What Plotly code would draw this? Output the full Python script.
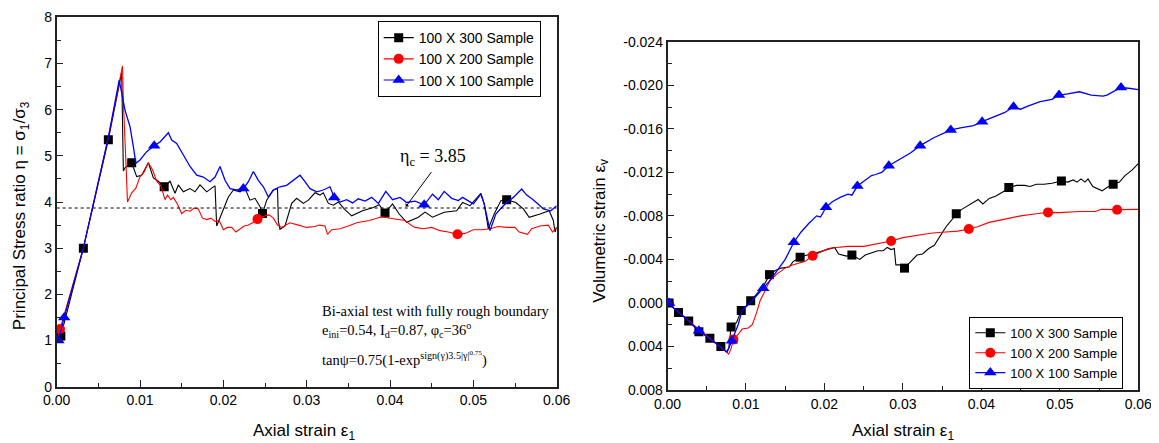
import plotly.graph_objects as go

# ---- left panel: principal stress ratio vs axial strain ----
s300_x = [0, 0.0005, 0.0032, 0.0062, 0.0078, 0.0080, 0.0082, 0.0090, 0.0096, 0.0102, 0.0110, 0.0116,
          0.0122, 0.0129, 0.0136, 0.0142, 0.0146, 0.0152, 0.0160, 0.0166, 0.0172, 0.0180, 0.0186, 0.0190,
          0.0192, 0.0198, 0.0206, 0.0212, 0.0220, 0.0226, 0.0232, 0.0238, 0.0244, 0.0247, 0.0252, 0.0260,
          0.0265, 0.0266, 0.0268, 0.0274, 0.0282, 0.0288, 0.0296, 0.0302, 0.0310, 0.0316, 0.0320, 0.0326,
          0.0332, 0.0338, 0.0345, 0.0354, 0.0367, 0.0380, 0.0387, 0.0394, 0.0403, 0.0411, 0.0420, 0.0434,
          0.0442, 0.0451, 0.0465, 0.0480, 0.0487, 0.0496, 0.0509, 0.0513, 0.0518, 0.0525, 0.0533, 0.0540,
          0.0551, 0.0560, 0.0567, 0.0580, 0.0591, 0.0596, 0.0598, 0.0600]
s300_y = [1.0, 1.1, 3.0, 5.35, 6.8, 4.67, 4.74, 4.85, 4.55, 4.58, 4.85, 4.52,
          4.45, 4.33, 4.45, 4.19, 4.37, 4.22, 4.29, 4.22, 4.37, 4.22, 4.3, 4.35,
          3.48, 3.77, 4.11, 4.26, 4.22, 4.29, 4.04, 4.08, 3.9, 3.75, 4.04, 4.26,
          4.29, 3.59, 3.41, 3.48, 3.97, 4.08, 3.97, 4.04, 4.2, 4.15, 4.2, 3.97,
          3.93, 4.0, 3.85, 3.7, 3.81, 3.88, 3.94, 3.76, 3.96, 3.74, 3.56, 3.67,
          3.78, 3.67, 3.78, 3.81, 3.99, 3.92, 4.19, 3.96, 3.42, 3.74, 4.03, 4.05,
          3.99, 3.85, 3.67, 3.74, 3.81, 3.6, 3.35, 3.45]
s300_mk_x = [0.0005, 0.0032, 0.0062, 0.0090, 0.0129, 0.0247, 0.0394, 0.0540]
s300_mk_y = [1.1, 3.0, 5.35, 4.85, 4.33, 3.75, 3.76, 4.05]

s200_x = [0, 0.0004, 0.0032, 0.0062, 0.0079, 0.0080, 0.0082, 0.0085, 0.0090, 0.0095, 0.0100, 0.0105,
          0.0110, 0.0115, 0.0120, 0.0125, 0.0130, 0.0133, 0.0137, 0.0140, 0.0145, 0.0150, 0.0155, 0.0160,
          0.0165, 0.0170, 0.0175, 0.0180, 0.0185, 0.0190, 0.0195, 0.0200, 0.0205, 0.0210, 0.0215, 0.0220,
          0.0225, 0.0230, 0.0235, 0.0241, 0.0250, 0.0255, 0.0260, 0.0265, 0.0270, 0.0275, 0.0280, 0.0290,
          0.0300, 0.0310, 0.0315, 0.0322, 0.0325, 0.0330, 0.0340, 0.0350, 0.0360, 0.0375, 0.0385, 0.0390,
          0.0400, 0.0410, 0.0418, 0.0425, 0.0430, 0.0440, 0.0450, 0.0460, 0.0470, 0.0481, 0.0490, 0.0500,
          0.0510, 0.0520, 0.0530, 0.0540, 0.0550, 0.0555, 0.0565, 0.0570, 0.0580, 0.0590, 0.0595, 0.0598,
          0.0600]
s200_y = [1.0, 1.25, 3.0, 5.4, 6.95, 6.2, 5.35, 4.0, 4.2, 4.3, 4.55, 4.65,
          4.85, 4.7, 4.45, 4.35, 4.05, 4.15, 4.05, 4.1, 3.95, 3.75, 3.82, 3.8,
          3.87, 3.85, 3.65, 3.62, 3.65, 3.58, 3.6, 3.4, 3.45, 3.45, 3.35, 3.42,
          3.48, 3.5, 3.55, 3.63, 3.7, 3.72, 3.65, 3.5, 3.45, 3.5, 3.55, 3.5,
          3.45, 3.47, 3.5, 3.48, 3.3, 3.4, 3.42, 3.48, 3.55, 3.6, 3.65, 3.68,
          3.65, 3.62, 3.6, 3.5, 3.45, 3.42, 3.45, 3.38, 3.35, 3.3, 3.32, 3.4,
          3.4, 3.42, 3.47, 3.45, 3.45, 3.35, 3.3, 3.42, 3.48, 3.5, 3.35, 3.42,
          3.45]
s200_mk_x = [0.0004, 0.0241, 0.0481]
s200_mk_y = [1.25, 3.63, 3.3]

s100_x = [0, 0.0002, 0.0009, 0.0032, 0.0062, 0.0075, 0.0082, 0.0088, 0.0092, 0.0095, 0.0100, 0.0108,
          0.0117, 0.0124, 0.0134, 0.0138, 0.0144, 0.0152, 0.0160, 0.0168, 0.0176, 0.0184, 0.0190, 0.0196,
          0.0202, 0.0208, 0.0216, 0.0224, 0.0230, 0.0236, 0.0242, 0.0248, 0.0254, 0.0260, 0.0268, 0.0276,
          0.0284, 0.0292, 0.0298, 0.0304, 0.0312, 0.0320, 0.0328, 0.0333, 0.0340, 0.0348, 0.0355, 0.0362,
          0.0370, 0.0378, 0.0386, 0.0395, 0.0403, 0.0412, 0.0420, 0.0430, 0.0441, 0.0451, 0.0458, 0.0465,
          0.0474, 0.0482, 0.0487, 0.0494, 0.0500, 0.0509, 0.0513, 0.0520, 0.0527, 0.0534, 0.0540, 0.0548,
          0.0558, 0.0564, 0.0571, 0.0578, 0.0584, 0.0593, 0.0600]
s100_y = [1.0, 1.0, 1.5, 3.0, 5.4, 6.64, 5.99, 5.63, 5.2, 4.84, 4.91, 5.09,
          5.22, 5.3, 5.5, 5.34, 5.27, 5.02, 4.77, 4.58, 4.54, 4.44, 4.54, 4.77,
          4.47, 4.29, 4.26, 4.29, 4.44, 4.66, 4.47, 4.33, 4.11, 4.26, 4.33, 4.36,
          4.47, 4.58, 4.44, 4.29, 4.22, 4.26, 4.33, 4.1, 4.0, 4.05, 3.98, 4.07,
          4.02, 4.1, 3.97, 4.23, 4.05, 4.1, 3.99, 4.02, 3.94, 4.17, 4.05, 4.23,
          4.08, 4.03, 4.1, 4.02, 3.96, 4.17, 3.96, 3.38, 3.74, 3.88, 3.99, 4.1,
          4.28, 4.15, 4.06, 3.95, 3.85, 3.81, 3.92]
s100_mk_x = [0.0002, 0.0009, 0.0117, 0.0224, 0.0333, 0.0441]
s100_mk_y = [1.0, 1.5, 5.22, 4.29, 4.1, 3.94]

eta_c_line = 3.87

# ---- right panel: volumetric strain vs axial strain ----
v300_x = [0, 0.0014, 0.0027, 0.004, 0.0054, 0.0068, 0.0075, 0.0078, 0.0081, 0.0088, 0.0094, 0.0100,
          0.0106, 0.0115, 0.0122, 0.013, 0.0138, 0.0145, 0.0155, 0.016, 0.0169, 0.0178, 0.019, 0.0203,
          0.0213, 0.0218, 0.0228, 0.0235, 0.0245, 0.0252, 0.026, 0.0268, 0.0275, 0.028, 0.0285, 0.0289,
          0.0291, 0.0297, 0.0302, 0.031, 0.0318, 0.0325, 0.0333, 0.034, 0.0348, 0.0355, 0.0362, 0.0368,
          0.0375, 0.0382, 0.039, 0.0396, 0.0402, 0.041, 0.0418, 0.0425, 0.043, 0.0435, 0.0445, 0.0455,
          0.0462, 0.047, 0.048, 0.049, 0.0502, 0.051, 0.0517, 0.0522, 0.0527, 0.0532, 0.0536, 0.0542,
          0.0548, 0.0554, 0.056, 0.0568, 0.0576, 0.0583, 0.0592, 0.06]
v300_y = [0, 0.00087, 0.00166, 0.00264, 0.00325, 0.004, 0.0045, 0.0042, 0.0022, 0.0018, 0.0007, 0.0003,
          -0.0002, -0.0010, -0.0015, -0.0026, -0.0030, -0.0032, -0.0033, -0.0038, -0.0042, -0.0044, -0.0046, -0.0049,
          -0.0051, -0.0045, -0.0043, -0.0044, -0.0040, -0.0044, -0.0046, -0.0048, -0.0048, -0.0051, -0.0049, -0.0050,
          -0.0035, -0.0035, -0.0032, -0.0038, -0.0044, -0.0045, -0.0050, -0.0053, -0.0062, -0.0070, -0.0076, -0.0082,
          -0.0086, -0.0089, -0.0093, -0.0095, -0.0091, -0.0096, -0.0098, -0.0101, -0.0103, -0.0106, -0.0108, -0.0108,
          -0.0107, -0.0109, -0.0109, -0.0110, -0.0112, -0.0111, -0.0113, -0.0111, -0.0114, -0.0111, -0.0114, -0.0107,
          -0.0105, -0.0103, -0.0106, -0.0109, -0.0111, -0.0117, -0.0122, -0.0128]
v300_mk_x = [0.0002, 0.0014, 0.0027, 0.004, 0.0054, 0.0068, 0.0081, 0.0094, 0.0106, 0.013, 0.0169,
             0.0235, 0.0302, 0.0368, 0.0435, 0.0502, 0.0568]
v300_mk_y = [0.0, 0.00087, 0.00166, 0.00264, 0.00325, 0.004, 0.0022, 0.0007, -0.0002, -0.0026, -0.0042,
             -0.0044, -0.0032, -0.0082, -0.0106, -0.0112, -0.0109]

v200_x = [0, 0.002, 0.004, 0.006, 0.0078, 0.0081, 0.0084, 0.009, 0.0095, 0.0103, 0.0108, 0.0113,
          0.0118, 0.0125, 0.013, 0.014, 0.015, 0.016, 0.0175, 0.0185, 0.0195, 0.0205, 0.0215, 0.023,
          0.025, 0.0265, 0.0275, 0.0285, 0.03, 0.0315, 0.0335, 0.035, 0.037, 0.0384, 0.0395, 0.041,
          0.043, 0.045, 0.047, 0.0485, 0.05, 0.0525, 0.0545, 0.0553, 0.0573, 0.06]
v200_y = [0, 0.0012, 0.0024, 0.0036, 0.0047, 0.0042, 0.00335, 0.0029, 0.0024, 0.0023, 0.0020, 0.0010,
          -0.0002, -0.0012, -0.0020, -0.0027, -0.0032, -0.0035, -0.0038, -0.00434, -0.0047, -0.0050, -0.0051, -0.0052,
          -0.0052, -0.0054, -0.0055, -0.00569, -0.0060, -0.0062, -0.0064, -0.0065, -0.0066, -0.00679, -0.0070, -0.0074,
          -0.0077, -0.0080, -0.0082, -0.00832, -0.0083, -0.0084, -0.0084, -0.0086, -0.00857, -0.0086]
v200_mk_x = [0.0084, 0.0185, 0.0285, 0.0384, 0.0485, 0.0573]
v200_mk_y = [0.00335, -0.00434, -0.00569, -0.00679, -0.00832, -0.00857]

v100_x = [0, 0.002, 0.004, 0.006, 0.0076, 0.0082, 0.009, 0.0095, 0.0105, 0.0115, 0.0122, 0.013,
          0.014, 0.015, 0.0161, 0.017, 0.018, 0.019, 0.0195, 0.0202, 0.021, 0.022, 0.023, 0.0235,
          0.0242, 0.025, 0.026, 0.0265, 0.0273, 0.0282, 0.0295, 0.031, 0.0322, 0.033, 0.034, 0.0355,
          0.0361, 0.0375, 0.039, 0.0401, 0.042, 0.043, 0.0441, 0.045, 0.046, 0.0475, 0.049, 0.0499,
          0.051, 0.0525, 0.054, 0.0555, 0.056, 0.0578, 0.059, 0.06]
v100_y = [0, 0.0012, 0.00255, 0.0036, 0.0045, 0.00347, 0.002, 0.0007, 0.0, -0.0008, -0.00134, -0.002,
          -0.003, -0.004, -0.00557, -0.0065, -0.0073, -0.008, -0.0079, -0.00878, -0.0093, -0.0097, -0.010, -0.0099,
          -0.01074, -0.0112, -0.0117, -0.0118, -0.012, -0.01261, -0.0132, -0.0138, -0.01445, -0.0148, -0.0152, -0.0157,
          -0.01589, -0.0161, -0.0163, -0.01665, -0.0172, -0.0175, -0.01803, -0.0178, -0.0181, -0.0185, -0.0187, -0.0191,
          -0.0192, -0.0194, -0.0191, -0.019, -0.0191, -0.0198, -0.0197, -0.0196]
v100_mk_x = [0.0002, 0.004, 0.0082, 0.0122, 0.0161, 0.0202, 0.0242, 0.0282, 0.0322, 0.0361, 0.0401,
             0.0441, 0.0499, 0.0578]
v100_mk_y = [0.0, 0.00255, 0.00347, -0.00134, -0.00557, -0.00878, -0.01074, -0.01261, -0.01445, -0.01589,
             -0.01665, -0.01803, -0.0191, -0.0198]

series_names = ["100 X 300 Sample", "100 X 200 Sample", "100 X 100 Sample"]
left_x_ticks = [0, 0.01, 0.02, 0.03, 0.04, 0.05, 0.06]
right_y_ticks = [-0.024, -0.020, -0.016, -0.012, -0.008, -0.004, 0.0, 0.004, 0.008]
right_y_text = ["-0.024", "-0.020", "-0.016", "-0.012", "-0.008", "-0.004", "0.000", "0.004", "0.008"]

SANS = "Liberation Sans, Arial, sans-serif"
SERIF = "Liberation Serif, Times New Roman, serif"
colors = ["black", "#ff0000", "#0000ff"]
symbols = ["square", "circle", "triangle-up"]
msizes = [9, 10, 11]
lwidths = [1.1, 1.1, 1.3]

# the page body adds an 8px margin, so the figure is 8px smaller than the window
W, H = 1151, 435

fig = go.Figure()

panels = [
    ("x", "y", "legend",
     [(s300_x, s300_y, s300_mk_x, s300_mk_y), (s200_x, s200_y, s200_mk_x, s200_mk_y),
      (s100_x, s100_y, s100_mk_x, s100_mk_y)]),
    ("x2", "y2", "legend2",
     [(v300_x, v300_y, v300_mk_x, v300_mk_y), (v200_x, v200_y, v200_mk_x, v200_mk_y),
      (v100_x, v100_y, v100_mk_x, v100_mk_y)]),
]

for xa, ya, leg, data in panels:
    for i, (lx, ly, mx, my) in enumerate(data):
        fig.add_trace(go.Scatter(x=lx, y=ly, mode="lines", xaxis=xa, yaxis=ya,
                                 line=dict(color=colors[i], width=lwidths[i]), showlegend=False,
                                 hoverinfo="skip"))
        fig.add_trace(go.Scatter(x=mx, y=my, mode="markers", xaxis=xa, yaxis=ya,
                                 marker=dict(symbol=symbols[i], size=msizes[i], color=colors[i]),
                                 showlegend=False))
    for i in range(3):
        # legend-only entries (line + marker)
        fig.add_trace(go.Scatter(x=[None], y=[None], mode="lines+markers", xaxis=xa, yaxis=ya,
                                 name=series_names[i], legend=leg,
                                 line=dict(color=colors[i], width=1.1),
                                 marker=dict(symbol=symbols[i], size=msizes[i], color=colors[i])))

# dotted critical-state line
fig.add_trace(go.Scatter(x=[0, 0.06], y=[eta_c_line, eta_c_line], mode="lines", xaxis="x", yaxis="y",
                         line=dict(color="black", width=1, dash="dot"), showlegend=False,
                         hoverinfo="skip"))

axis_common = dict(showline=True, mirror=True, linecolor="#222", linewidth=1.6,
                   ticks="inside", ticklen=7, tickwidth=1.2, tickcolor="#222",
                   showgrid=False, zeroline=False, automargin=False,
                   tickfont=dict(family=SANS, size=14, color="black"))

fig.update_layout(
    width=W, height=H,
    margin=dict(l=0, r=0, t=0, b=0, autoexpand=False),
    paper_bgcolor="white", plot_bgcolor="white",
    font=dict(family=SANS, color="black"),
    xaxis=dict(domain=[0.0423, 0.4767], range=[0, 0.06], tickvals=left_x_ticks, tickformat=".2f",
               minor=dict(dtick=0.005, ticks="inside", ticklen=4, tickcolor="#222"),
               anchor="y", **axis_common),
    yaxis=dict(domain=[0.1294, 0.9786], range=[0, 8], dtick=1,
               minor=dict(dtick=0.5, ticks="inside", ticklen=5, tickcolor="#222"),
               anchor="x", **axis_common),
    xaxis2=dict(domain=[0.5730, 0.9820], range=[0, 0.06], tickvals=left_x_ticks, tickformat=".2f",
                minor=dict(dtick=0.005, ticks="inside", ticklen=4, tickcolor="#222"),
                anchor="y2", **axis_common),
    yaxis2=dict(domain=[0.1218, 0.9225], range=[0.008, -0.024], tickvals=right_y_ticks,
                ticktext=right_y_text,
                minor=dict(dtick=0.002, ticks="inside", ticklen=5, tickcolor="#222"),
                anchor="x2", **axis_common),
    legend=dict(x=0.3212, y=0.9700, xanchor="left", yanchor="top", bgcolor="white",
                bordercolor="black", borderwidth=1, tracegroupgap=0,
                font=dict(family=SANS, size=14, color="black")),
    legend2=dict(x=0.8352, y=0.2900, xanchor="left", yanchor="top", bgcolor="white",
                 bordercolor="black", borderwidth=1, tracegroupgap=0,
                 font=dict(family=SANS, size=13, color="black")),
)

annotations = [
    dict(text="Axial strain ε<sub>1</sub>", x=0.2572, y=0.0262, xref="paper", yref="paper",
         xanchor="center", yanchor="middle", showarrow=False, font=dict(family=SANS, size=17)),
    dict(text="Principal Stress ratio η = σ<sub>1</sub>/σ<sub>3</sub>", x=0.0109, y=0.5228,
         xref="paper", yref="paper", xanchor="center", yanchor="middle", textangle=-90,
         showarrow=False, font=dict(family=SANS, size=17)),
    dict(text="Axial strain ε<sub>1</sub>", x=0.7772, y=0.0262, xref="paper", yref="paper",
         xanchor="center", yanchor="middle", showarrow=False, font=dict(family=SANS, size=17)),
    dict(text="Volumetric strain ε<sub>v</sub>", x=0.5151, y=0.4874, xref="paper", yref="paper",
         xanchor="center", yanchor="middle", textangle=-90, showarrow=False,
         font=dict(family=SANS, size=17)),
    dict(text="η<sub>c</sub> = 3.85", x=0.0409, y=4.96, xref="x", yref="y", xanchor="left",
         yanchor="middle", showarrow=False, font=dict(family=SERIF, size=18)),
    dict(text="", x=0.0419, y=3.9, ax=0.0451, ay=4.68, axref="x", ayref="y", xref="x", yref="y",
         showarrow=True, arrowhead=1, arrowsize=0.8, arrowwidth=1, arrowcolor="black"),
    dict(text="Bi-axial test with fully rough boundary", x=0.0316, y=1.65, xref="x", yref="y",
         xanchor="left", yanchor="middle", showarrow=False, font=dict(family=SERIF, size=14.5)),
    dict(text="e<sub>ini</sub>=0.54, I<sub>d</sub>=0.87, φ<sub>c</sub>=36<sup>o</sup>", x=0.0316, y=1.23,
         xref="x", yref="y", xanchor="left", yanchor="middle", showarrow=False,
         font=dict(family=SERIF, size=14.5)),
    dict(text="tanψ=0.75(1-exp<sup>sign(γ)3.5|γ|<sup>0.75</sup></sup>)", x=0.0316, y=0.61,
         xref="x", yref="y", xanchor="left", yanchor="middle", showarrow=False,
         font=dict(family=SERIF, size=14.5)),
]
fig.update_layout(annotations=annotations)

fig.write_html("out.html")
